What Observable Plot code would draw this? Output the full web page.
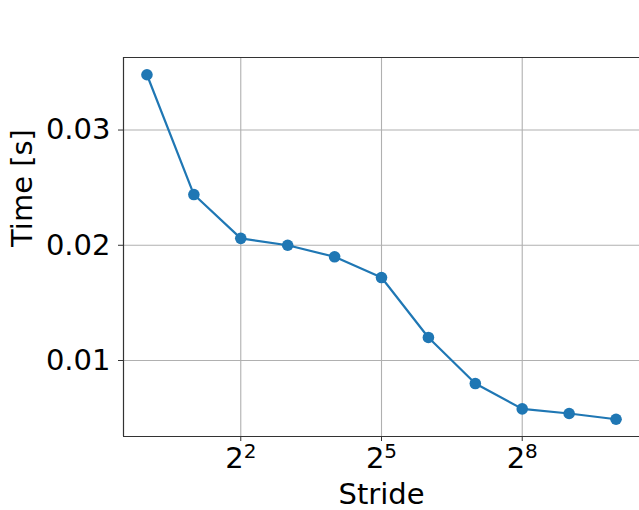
<!DOCTYPE html>
<html><head><meta charset="utf-8">
<script src="https://cdn.jsdelivr.net/npm/d3@7"></script>
<script src="https://cdn.jsdelivr.net/npm/@observablehq/plot@0.6"></script>
<style>html,body{margin:0;padding:0;background:#fff;overflow:hidden}</style>
</head><body><div id="chart"></div>
<script>
const strides = [1, 2, 4, 8, 16, 32, 64, 128, 256, 512, 1024];
const times = [0.0348, 0.0244, 0.0206, 0.0200, 0.0190, 0.0172, 0.0120, 0.0080, 0.0058, 0.0054, 0.0049];
const xTicks = [4, 32, 256];
const xTickBase = ["2", "2", "2"];
const xTickExp = ["2", "5", "8"];
const yTicks = [0.01, 0.02, 0.03];
const yTickLabels = ["0.01", "0.02", "0.03"];
const xLabel = "Stride";
const yLabel = "Time [s]";

const data = strides.map((s, i) => ({stride: s, time: times[i]}));
const xDomain = [Math.pow(2, -0.5), Math.pow(2, 10.5)];
const yMin = d3.min(times), yMax = d3.max(times), pad = (yMax - yMin) * 0.05;
const yDomain = [yMin - pad, yMax + pad];
const blue = "#1f77b4";
const FS = 29;

const chart = Plot.plot({
  width: 639, height: 510,
  marginLeft: 123, marginRight: 0, marginTop: 57, marginBottom: 74,
  style: {fontFamily: "DejaVu Sans", fontSize: FS + "px", color: "#000", background: "#fff"},
  x: {type: "log", base: 2, domain: xDomain},
  y: {domain: yDomain},
  marks: [
    Plot.gridX(xTicks, {stroke: "#b0b0b0", strokeOpacity: 1, strokeWidth: 1.1}),
    Plot.gridY(yTicks, {stroke: "#b0b0b0", strokeOpacity: 1, strokeWidth: 1.1}),
    Plot.axisX({ticks: xTicks, tickFormat: (d) => xTickBase[xTicks.indexOf(d)] + "^" + xTickExp[xTicks.indexOf(d)], tickSize: 5, tickPadding: 6, label: null, stroke: "#333"}),
    Plot.axisY({ticks: yTicks, tickFormat: (d) => yTickLabels[yTicks.indexOf(d)], tickSize: 5, tickPadding: 8, label: null, stroke: "#333"}),
    Plot.ruleX([xDomain[0]], {stroke: "#333", strokeWidth: 1.2}),
    Plot.ruleY([yDomain[0]], {stroke: "#333", strokeWidth: 1.2}),
    Plot.ruleY([yDomain[1]], {stroke: "#333", strokeWidth: 1.2}),
    Plot.line(data, {x: "stride", y: "time", stroke: blue, strokeWidth: 2.2}),
    Plot.dot(data, {x: "stride", y: "time", fill: blue, r: 5.8}),
    Plot.text([xLabel], {frameAnchor: "bottom", dy: 58.5, lineAnchor: "middle", fontSize: FS, fill: "#000"}),
    Plot.text([yLabel], {frameAnchor: "left", dx: -101, rotate: -90, lineAnchor: "middle", fontSize: FS, fill: "#000"})
  ]
});
document.getElementById("chart").appendChild(chart);

// turn "2^5" tick labels into base + superscript
d3.select(chart).selectAll("g[aria-label='x-axis tick label'] text").each(function () {
  const t = d3.select(this);
  const parts = t.text().split("^");
  if (parts.length !== 2) return;
  t.text(parts[0]);
  t.append("tspan").attr("font-size", 20).attr("dy", -10).text(parts[1]);
});
</script>
</body></html>
